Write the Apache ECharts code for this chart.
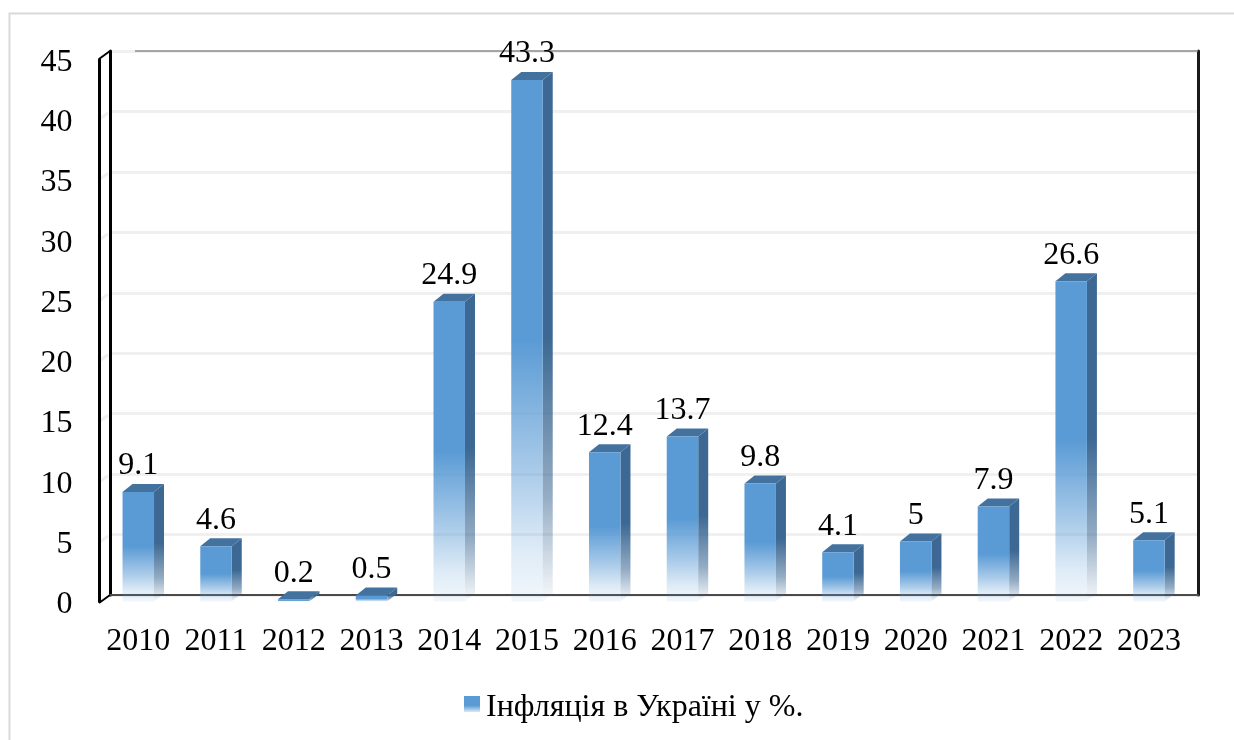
<!DOCTYPE html>
<html>
<head>
<meta charset="utf-8">
<style>
html, body { margin: 0; padding: 0; background: #fff; }
#chart { width: 1234px; height: 740px; }
</style>
<script src="https://cdn.jsdelivr.net/npm/echarts@6/dist/echarts.min.js"></script>
</head>
<body>
<div id="chart"></div>
<script>
var years = ['2010', '2011', '2012', '2013', '2014', '2015', '2016', '2017', '2018', '2019', '2020', '2021', '2022', '2023'];
var inflation = [9.1, 4.6, 0.2, 0.5, 24.9, 43.3, 12.4, 13.7, 9.8, 4.1, 5, 7.9, 26.6, 5.1];
var yTicks = [0, 5, 10, 15, 20, 25, 30, 35, 40, 45];
var seriesName = 'Інфляція в Україні у %.';

var FONT = '"Liberation Serif", "Times New Roman", serif';
var FONT_SIZE = 32;
var DEPTH_X = 10, DEPTH_Y = 8;

function fade(stops) {
    return { type: 'linear', x: 0, y: 0, x2: 0, y2: 1, colorStops: stops };
}
var frontFill = fade([
    { offset: 0, color: '#5b9bd5' },
    { offset: 0.5, color: '#5b9bd5' },
    { offset: 0.75, color: 'rgba(91,155,213,0.52)' },
    { offset: 0.9, color: 'rgba(91,155,213,0.2)' },
    { offset: 1, color: 'rgba(91,155,213,0.08)' }
]);
var sideFill = fade([
    { offset: 0, color: '#3c6893' },
    { offset: 0.5, color: '#3c6893' },
    { offset: 0.8, color: 'rgba(60,104,147,0.55)' },
    { offset: 1, color: 'rgba(60,104,147,0.03)' }
]);

// bar as three faces, front face sits on the front plane of the 3d box
function renderBar(params, api) {
    var top = api.coord([api.value(0), api.value(1)]);
    var base = api.coord([api.value(0), 0]);
    var w = api.size([1, 0])[0] * 0.405;
    var x0 = top[0] - w / 2, x1 = top[0] + w / 2;
    return {
        type: 'group',
        children: [
            { type: 'polygon', shape: { points: [[x1, top[1]], [x1 + DEPTH_X, top[1] - DEPTH_Y], [x1 + DEPTH_X, base[1] - DEPTH_Y], [x1, base[1]]] }, style: { fill: sideFill } },
            { type: 'polygon', shape: { points: [[x0, top[1]], [x0 + DEPTH_X, top[1] - DEPTH_Y], [x1 + DEPTH_X, top[1] - DEPTH_Y], [x1, top[1]]] }, style: { fill: '#44729f' } },
            { type: 'rect', shape: { x: x0, y: top[1], width: w, height: Math.max(base[1] - top[1], 1) }, style: { fill: frontFill } },
            { type: 'text', style: { text: String(api.value(1)), x: top[0], y: top[1] - 10, align: 'center', verticalAlign: 'bottom', font: FONT_SIZE + 'px ' + FONT, fill: '#000' } }
        ]
    };
}

// little diagonal pieces joining the back wall with the front axis
function renderWall(params, api) {
    var value = api.value(0);
    var y = api.coord([0, value])[1];
    var left = params.coordSys.x, right = left + params.coordSys.width;
    var strong = value === 0 || value === 45;
    var kids = [{
        type: 'line',
        shape: { x1: strong ? left : left - 2, y1: strong ? y : y + 1.5, x2: left - 11, y2: y + 8 },
        style: { stroke: strong ? '#000' : '#f0f0f0', lineWidth: strong ? 2 : 3 }
    }];
    if (value === 45) {
        kids.push({ type: 'line', shape: { x1: left + 25, y1: y, x2: right, y2: y }, style: { stroke: '#8c8c8c', lineWidth: 1.5 } });
    }
    return { type: 'group', children: kids };
}

var myChart = echarts.init(document.getElementById('chart'));
var option = {
    animation: false,
    backgroundColor: '#fff',
    textStyle: { fontFamily: FONT },
    graphic: [
        { type: 'polyline', z: 0, shape: { points: [[9.5, 745], [9.5, 13.5], [1240, 13.5]] }, style: { stroke: '#d9d9d9', fill: null, lineWidth: 2 } }
    ],
    legend: {
        data: [seriesName],
        left: 459,
        top: 687,
        icon: 'rect',
        itemWidth: 16,
        itemHeight: 16,
        itemGap: 6,
        formatter: '{a|{name}}',
        textStyle: {
            rich: { a: { fontFamily: FONT, fontSize: FONT_SIZE, color: '#000', padding: [8, 0, 0, 1] } }
        }
    },
    grid: [
        { left: 99.4, top: 59.6, width: 1088.4, height: 542 },
        { left: 110, top: 51, width: 1088, height: 544 }
    ],
    xAxis: [
        {
            type: 'category', gridIndex: 0, data: years,
            axisLine: { show: false }, axisTick: { show: false },
            axisLabel: { fontFamily: FONT, fontSize: FONT_SIZE, color: '#000', margin: 24, interval: 0 }
        },
        {
            type: 'category', gridIndex: 1, data: years,
            axisLine: { show: true, lineStyle: { color: '#4a4a4a', width: 2 } },
            axisTick: { show: false }, axisLabel: { show: false }
        }
    ],
    yAxis: [
        {
            type: 'value', gridIndex: 0, min: 0, max: 45, interval: 5, z: 4,
            axisLine: { show: true, lineStyle: { color: '#000', width: 3 } },
            axisTick: { show: false }, splitLine: { show: false },
            axisLabel: { fontFamily: FONT, fontSize: FONT_SIZE, color: '#000', margin: 27, verticalAlign: 'top', lineHeight: 6 }
        },
        {
            type: 'value', gridIndex: 1, min: 0, max: 45, interval: 5,
            axisLine: { show: true, lineStyle: { color: '#000', width: 3 } },
            axisTick: { show: false }, axisLabel: { show: false },
            splitLine: { show: true, lineStyle: { color: '#f0f0f0', width: 3 } }
        },
        {
            type: 'value', gridIndex: 1, min: 0, max: 45, interval: 5, position: 'right',
            axisLine: { show: true, lineStyle: { color: '#1a1a1a', width: 3 } },
            axisTick: { show: false }, axisLabel: { show: false }, splitLine: { show: false }
        }
    ],
    series: [
        {
            type: 'custom', name: 'wall', xAxisIndex: 1, yAxisIndex: 1, z: 1, silent: true,
            renderItem: renderWall, data: yTicks.map(function (v) { return [v]; }),
            encode: { y: 0 }
        },
        {
            type: 'custom', name: seriesName, xAxisIndex: 0, yAxisIndex: 0, z: 5,
            itemStyle: { color: fade([{ offset: 0, color: '#5b9bd5' }, { offset: 0.6, color: '#5b9bd5' }, { offset: 1, color: '#dce9f5' }]) },
            renderItem: renderBar,
            data: years.map(function (y, i) { return [i, inflation[i]]; }),
            encode: { x: 0, y: 1 }
        }
    ]
};
myChart.setOption(option);
</script>
</body>
</html>
